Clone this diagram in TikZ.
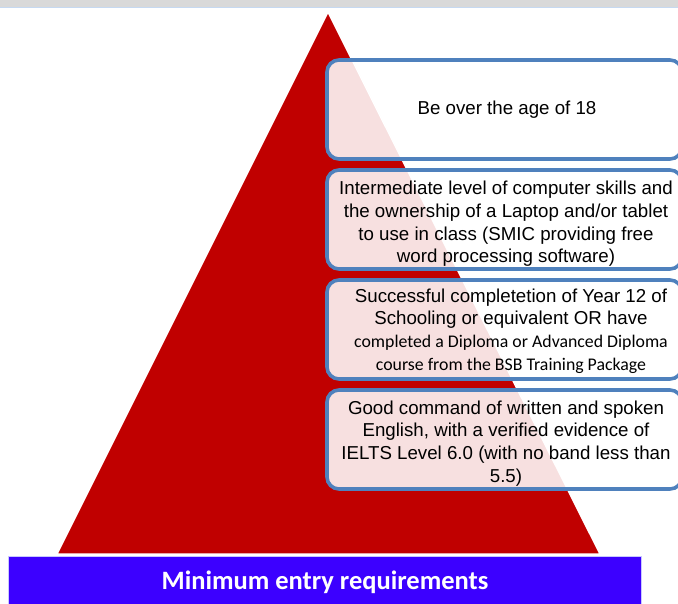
\documentclass[tikz,border=0pt]{standalone}
\usepackage{fontspec}
\setmainfont{Liberation Sans}
\newfontfamily\calib{Carlito}
\newcommand\calsmall{\calib\fontsize{17.8}{22.7}\selectfont}
\begin{document}
\begin{tikzpicture}[x=1pt,y=-1pt,
  reqbox/.style={draw=boxblue,line width=3.6pt,rounded corners=12pt,fill=white,fill opacity=0.88,text opacity=1},
  reqtext/.style={align=center,font=\fontsize{18.7}{22.7}\selectfont,text=black}]
\definecolor{boxblue}{RGB}{79,129,189}
\definecolor{pyrred}{RGB}{192,0,0}
\definecolor{barblue}{RGB}{60,0,255}
\definecolor{topgray}{RGB}{217,217,217}
\useasboundingbox (0,0) rectangle (678,603);
% top band
\fill[topgray] (0,0) rectangle (678,7);
\draw[color={rgb,255:red,198;green,217;blue,241},line width=1.5pt] (0,7.5) -- (678,7.5);
% pyramid
\coordinate (apex) at (328,12);
\coordinate (bl) at (57,554);
\coordinate (br) at (600,554);
\fill[pyrred,draw=white,line width=1.5pt] (apex) -- (br) -- (bl) -- cycle;
% boxes
\path[reqbox] (327,60) rectangle (682,159);
\path[reqbox] (327,170) rectangle (682,269);
\path[reqbox] (327,280) rectangle (682,379);
\path[reqbox] (327,390) rectangle (682,489);
\node[reqtext] (r1) at (507,110) {Be over the age of 18};
\node[reqtext] (r2) at (506,224) {Intermediate level of computer skills and\\the ownership of a Laptop and/or tablet\\to use in class (SMIC providing free\\word processing software)};
\node[reqtext] (r3) at (511,331) {Successful completetion of Year 12 of\\Schooling or equivalent OR have\\\calsmall completed a Diploma or Advanced Diploma\\\calsmall course from the BSB Training Package};
\node[reqtext] (r4) at (506,443.5) {Good command of written and spoken\\English, with a verified evidence of\\IELTS Level 6.0 (with no band less than\\5.5)};
% bottom bar
\fill[barblue,draw={rgb,255:red,200;green,200;blue,255},line width=1pt] (8,556) rectangle (641,605);
\node[text=white,font=\calib\bfseries\fontsize{26.5}{30}\selectfont] (title) at (325,582) {Minimum entry requirements};
\end{tikzpicture}
\end{document}
